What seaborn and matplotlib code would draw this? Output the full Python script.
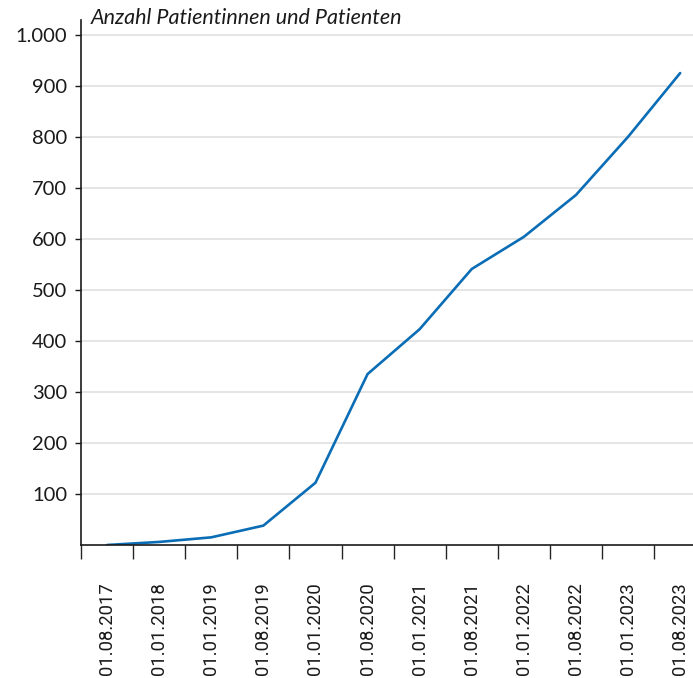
import seaborn as sns
import matplotlib.pyplot as plt
from matplotlib.ticker import FixedLocator, FuncFormatter
import pandas as pd
import numpy as np

# Stichtage und Anzahl Patientinnen und Patienten
dates = ["01.08.2017", "01.01.2018", "01.01.2019", "01.08.2019", "01.01.2020",
         "01.08.2020", "01.01.2021", "01.08.2021", "01.01.2022", "01.08.2022",
         "01.01.2023", "01.08.2023"]
patients = [0, 6, 15, 38, 122, 335, 423, 541, 604, 686, 800, 925]
y_ticks = [100, 200, 300, 400, 500, 600, 700, 800, 900, 1000]

df = pd.DataFrame({"pos": np.arange(len(dates)), "n": patients})

sns.set_style("white")
plt.rcParams['font.family'] = ['Lato', 'DejaVu Sans']

fig = plt.figure(figsize=(6.93, 6.78), dpi=100)
ax = fig.add_axes([81 / 693, 133 / 678, 1 - 81 / 693, 525 / 678])

sns.lineplot(data=df, x="pos", y="n", ax=ax, color="#0a6db5", linewidth=1.9)

ax.set_xlim(-0.5, -0.5 + (693 - 81) / 52.1)
ax.set_ylim(0, 1029)

# y axis
ax.yaxis.set_major_locator(FixedLocator(y_ticks))
ax.yaxis.set_major_formatter(FuncFormatter(lambda v, p: f"{int(v):,}".replace(",", ".")))
ax.tick_params(axis="y", direction="out", length=4, width=1, pad=6,
               labelsize=14.5, colors="#1a1a1a", left=True)
ax.grid(axis="y", color="#e0e0e0", linewidth=1.2)
ax.grid(axis="x", visible=False)

# x axis: ticks between the categories, labels centred below
ax.xaxis.set_major_locator(FixedLocator(np.arange(len(dates)) - 0.5))
ax.xaxis.set_minor_locator(FixedLocator(np.arange(len(dates))))
ax.set_xticklabels([])
ax.set_xticklabels(dates, minor=True, rotation=90, va="top", ha="center",
                   fontsize=13.3, family=["Roboto", "DejaVu Sans"], color="#1a1a1a")
ax.tick_params(axis="x", which="major", direction="out", length=10, width=1, bottom=True)
ax.tick_params(axis="x", which="minor", length=0, pad=27)

for side in ["top", "right"]:
    ax.spines[side].set_visible(False)
for side in ["left", "bottom"]:
    ax.spines[side].set_color("#1a1a1a")
    ax.spines[side].set_linewidth(1.2)

ax.set_xlabel("")
ax.set_ylabel("")
ax.text(91 / 693, 1 - 18 / 678, "Anzahl Patientinnen und Patienten", transform=fig.transFigure,
        fontsize=15.5, style="italic", va="center", ha="left", color="#1a1a1a")

fig.savefig("out.png", dpi=100)
